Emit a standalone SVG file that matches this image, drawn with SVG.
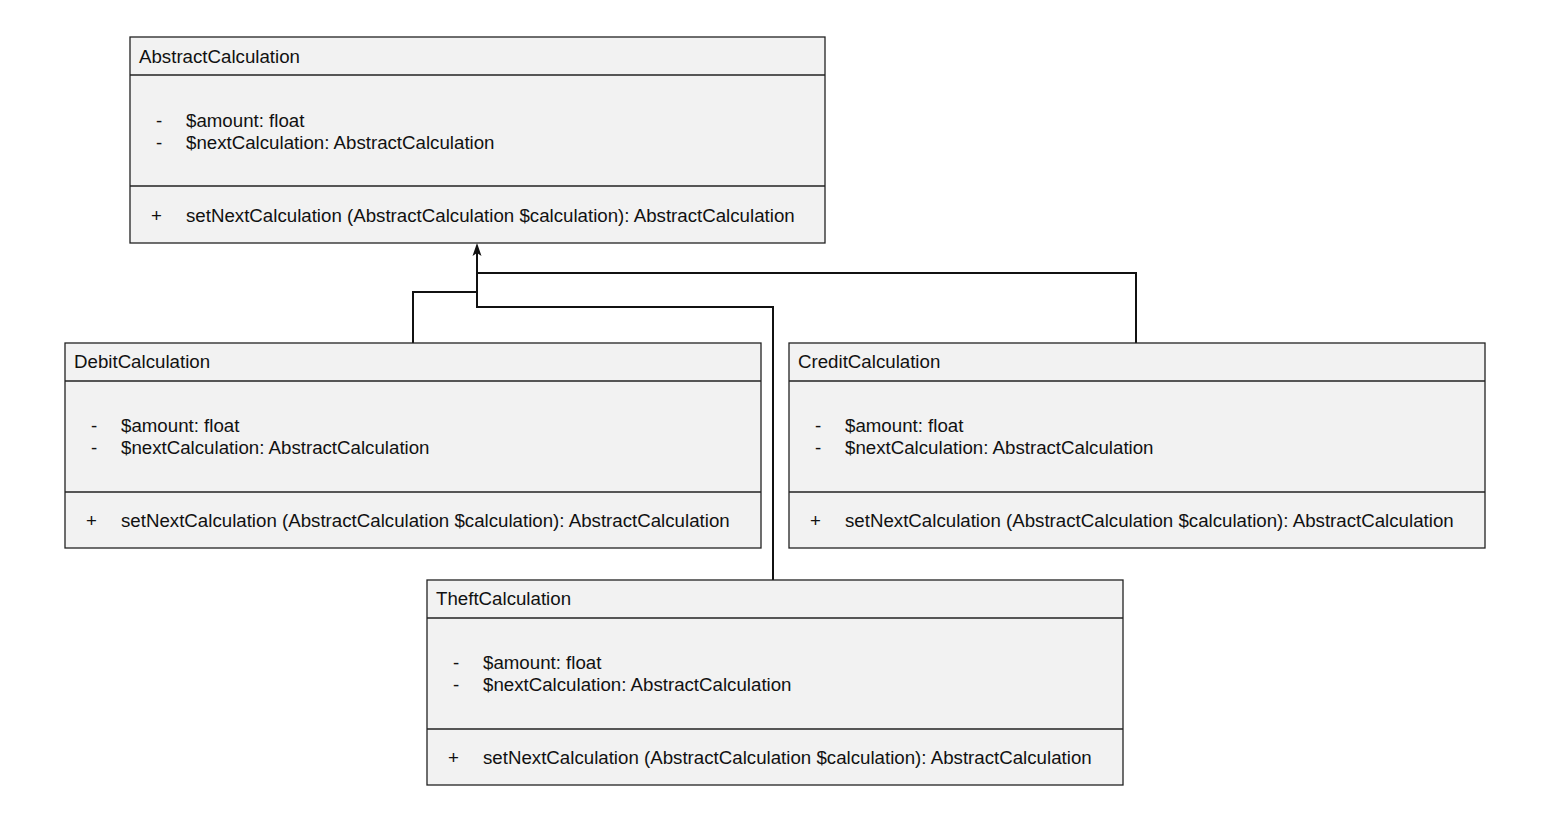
<svg xmlns="http://www.w3.org/2000/svg" width="1550" height="835" viewBox="0 0 1550 835">
<defs>
<style>
.box{fill:#f2f2f2;stroke:#222;stroke-width:1.3}
.sep{stroke:#222;stroke-width:1.3}
text{font-family:"Liberation Sans",Arial,sans-serif;font-size:18.7px;fill:#111}
.conn{fill:none;stroke:#111;stroke-width:2}
.head{fill:#111}
</style>
</defs>
<rect width="1550" height="835" fill="#fff"/>
<g id="connectors">
<path class="conn" d="M1136,343 V273 H477"/>
<path class="conn" d="M413,343 V292 H477"/>
<path class="conn" d="M773,580 V307 H477 V250"/>
<polygon class="head" points="477,243 481.5,256 477,253 472.5,256"/>
</g>
<g id="AbstractCalculation">
<rect class="box" x="130" y="37" width="695" height="206"/>
<line class="sep" x1="130" y1="75" x2="825" y2="75"/>
<line class="sep" x1="130" y1="186" x2="825" y2="186"/>
<text x="139" y="63">AbstractCalculation</text>
<text x="156" y="127">-</text><text x="186" y="127">$amount: float</text>
<text x="156" y="149">-</text><text x="186" y="149">$nextCalculation: AbstractCalculation</text>
<text x="151" y="222">+</text><text x="186" y="222">setNextCalculation (AbstractCalculation $calculation): AbstractCalculation</text>
</g>
<g id="DebitCalculation">
<rect class="box" x="65" y="343" width="696" height="205"/>
<line class="sep" x1="65" y1="381" x2="761" y2="381"/>
<line class="sep" x1="65" y1="492" x2="761" y2="492"/>
<text x="74" y="368">DebitCalculation</text>
<text x="91" y="432">-</text><text x="121" y="432">$amount: float</text>
<text x="91" y="454">-</text><text x="121" y="454">$nextCalculation: AbstractCalculation</text>
<text x="86" y="527">+</text><text x="121" y="527">setNextCalculation (AbstractCalculation $calculation): AbstractCalculation</text>
</g>
<g id="CreditCalculation">
<rect class="box" x="789" y="343" width="696" height="205"/>
<line class="sep" x1="789" y1="381" x2="1485" y2="381"/>
<line class="sep" x1="789" y1="492" x2="1485" y2="492"/>
<text x="798" y="368">CreditCalculation</text>
<text x="815" y="432">-</text><text x="845" y="432">$amount: float</text>
<text x="815" y="454">-</text><text x="845" y="454">$nextCalculation: AbstractCalculation</text>
<text x="810" y="527">+</text><text x="845" y="527">setNextCalculation (AbstractCalculation $calculation): AbstractCalculation</text>
</g>
<g id="TheftCalculation">
<rect class="box" x="427" y="580" width="696" height="205"/>
<line class="sep" x1="427" y1="618" x2="1123" y2="618"/>
<line class="sep" x1="427" y1="729" x2="1123" y2="729"/>
<text x="436" y="605">TheftCalculation</text>
<text x="453" y="669">-</text><text x="483" y="669">$amount: float</text>
<text x="453" y="691">-</text><text x="483" y="691">$nextCalculation: AbstractCalculation</text>
<text x="448" y="764">+</text><text x="483" y="764">setNextCalculation (AbstractCalculation $calculation): AbstractCalculation</text>
</g>
</svg>
